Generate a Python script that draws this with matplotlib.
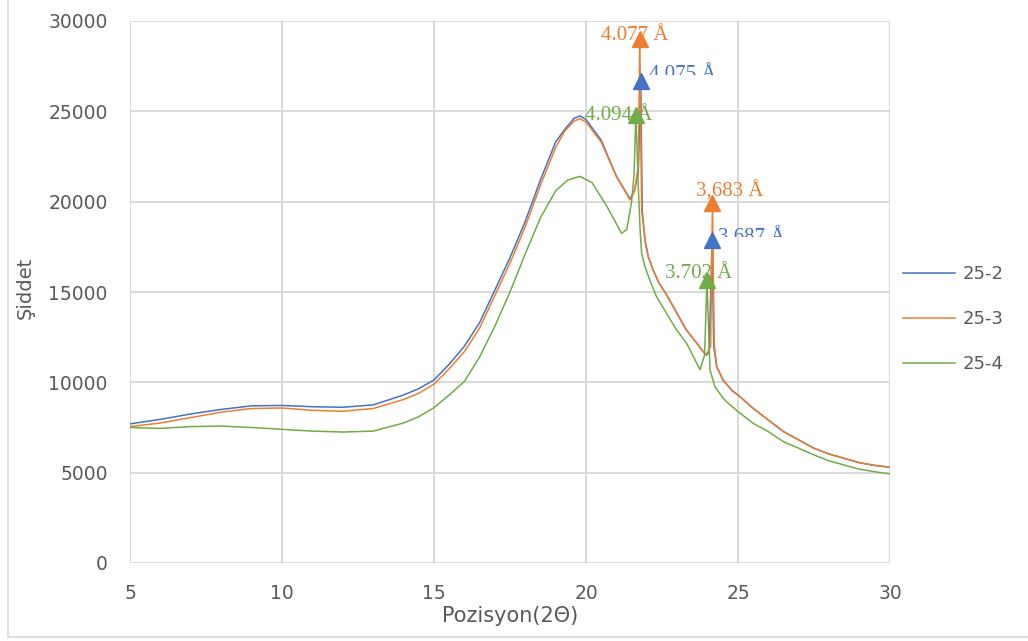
import matplotlib
matplotlib.use("Agg")
import matplotlib.pyplot as plt
from matplotlib.lines import Line2D
from matplotlib.transforms import Bbox, TransformedBbox

# 25-2
x_b = [5, 6, 7, 8, 9, 10, 11, 12, 13, 14, 14.5, 15, 15.5, 16, 16.5, 17, 17.5, 18, 18.5, 19,
       19.3, 19.6, 19.8, 20, 20.5, 21, 21.45, 21.6, 21.72, 21.80, 21.85, 21.94, 22.05, 22.2, 22.4,
       22.65, 23, 23.3, 23.65, 23.85, 23.97, 24.05, 24.15, 24.2, 24.3, 24.5, 24.8, 25, 25.5, 26,
       26.5, 27, 27.5, 28, 28.5, 29, 29.5, 30]
y_b = [7700, 7950, 8250, 8500, 8700, 8720, 8650, 8620, 8750, 9300, 9650, 10130, 11000, 12000,
       13300, 15100, 16900, 18900, 21200, 23300, 24000, 24600, 24750, 24550, 23400, 21400, 20150,
       20650, 21600, 26700, 19500, 17900, 16950, 16250, 15500, 14850, 13800, 12900, 12150, 11700,
       11500, 11700, 17900, 12000, 10870, 10150, 9550, 9300, 8560, 7910, 7270, 6810, 6350, 6030,
       5790, 5550, 5400, 5300]

# 25-3
x_o = [5, 6, 7, 8, 9, 10, 11, 12, 13, 14, 14.5, 15, 15.5, 16, 16.5, 17, 17.5, 18, 18.5, 19,
       19.3, 19.6, 19.8, 20, 20.5, 21, 21.45, 21.6, 21.72, 21.77, 21.83, 21.9, 21.96, 22.05, 22.2,
       22.4, 22.65, 23, 23.3, 23.65, 23.85, 23.97, 24.1, 24.16, 24.22, 24.3, 24.5, 24.8, 25, 25.5,
       26, 26.5, 27, 27.5, 28, 28.5, 29, 29.5, 30]
y_o = [7550, 7750, 8050, 8350, 8550, 8580, 8450, 8400, 8550, 9050, 9400, 9900, 10750, 11700,
       13000, 14800, 16600, 18600, 20900, 23000, 23900, 24450, 24600, 24400, 23300, 21400, 20100,
       20600, 22000, 29000, 19500, 18500, 17600, 16950, 16250, 15500, 14850, 13800, 12900, 12150,
       11700, 11550, 12000, 19900, 12100, 10870, 10150, 9550, 9300, 8560, 7910, 7270, 6810, 6350,
       6030, 5790, 5550, 5400, 5300]

# 25-4
x_g = [5, 6, 7, 8, 9, 10, 11, 12, 13, 14, 14.5, 15, 15.5, 16, 16.5, 17, 17.5, 18, 18.5, 19,
       19.4, 19.8, 20.2, 20.7, 21.17, 21.34, 21.5, 21.58, 21.64, 21.72, 21.78, 21.83, 21.94, 22.1,
       22.32, 22.65, 22.98, 23.31, 23.6, 23.75, 23.9, 23.98, 24.08, 24.24, 24.5, 24.62, 25, 25.5,
       26, 26.5, 27, 27.5, 28, 28.5, 29, 29.5, 30]
y_g = [7500, 7450, 7550, 7580, 7500, 7400, 7300, 7250, 7300, 7750, 8100, 8600, 9300, 10050,
       11400, 13100, 15000, 17100, 19100, 20600, 21200, 21400, 21050, 19700, 18250, 18450, 20000,
       21500, 24820, 20830, 18430, 17140, 16400, 15660, 14740, 13820, 12900, 12160, 11200, 10700,
       11500, 15660, 10680, 9760, 9150, 8930, 8380, 7730, 7270, 6710, 6350, 5980, 5650, 5420,
       5190, 5050, 4930]

# peak markers and d-spacing labels
peaks_b_x = [21.80, 24.15]
peaks_b_y = [26700, 17900]
peaks_b_lbl = ["4.075 Å", "3.687 Å"]
peaks_o_x = [21.77, 24.16]
peaks_o_y = [29000, 19900]
peaks_o_lbl = ["4.077 Å", "3,683 Å"]
peaks_g_x = [21.64, 23.98]
peaks_g_y = [24820, 15660]
peaks_g_lbl = ["4.094 Å", "3.702 Å"]

c_b = "#4472C4"
c_o = "#ED7D31"
c_g = "#70AD47"
txt = "#595959"

fig = plt.figure(figsize=(10.28, 6.41), dpi=100)
ax = fig.add_axes([130 / 1028, 78 / 641, 760 / 1028, 542 / 641])

ax.plot(x_b, y_b, color=c_b, lw=1.1, label="25-2", zorder=2)
ax.plot(x_o, y_o, color=c_o, lw=1.1, label="25-3", zorder=2)
ax.plot(x_g, y_g, color=c_g, lw=1.1, label="25-4", zorder=2)

# label offsets in pixels (left edge, baseline) from each peak marker
label_specs = [
    (peaks_o_x, peaks_o_y, peaks_o_lbl, c_o, [(-39, -1), (-16, 7)], [None, None]),
    (peaks_b_x, peaks_b_y, peaks_b_lbl, c_b, [(8, 2), (6, -2)], [27010, 18044]),
    (peaks_g_x, peaks_g_y, peaks_g_lbl, c_g, [(-51, -5), (-42, 2)], [None, None]),
]
for px, py, lbls, col, offs, clips in label_specs:
    ax.plot(px, py, linestyle="none", marker="^", ms=11, color=col, zorder=5)
    for xx, yy, s, (dx, dy), cl in zip(px, py, lbls, offs, clips):
        a = ax.annotate(s, (xx, yy), xytext=(dx, dy), textcoords="offset pixels",
                        ha="left", va="baseline", color=col, fontsize=15,
                        family="Liberation Serif", zorder=4)
        if cl is not None:
            # the reference only shows the top part of these labels
            a.set_clip_on(True)
            a.set_clip_path(None)
            a.set_clip_box(TransformedBbox(Bbox([[5, cl], [30, 31000]]), ax.transData))

ax.set_xlim(5, 30)
ax.set_ylim(0, 30000)
ax.set_xticks([5, 10, 15, 20, 25, 30])
ax.set_yticks(range(0, 30001, 5000))
ax.grid(True, color="#d9d9d9", lw=1.4)
ax.set_axisbelow(True)
for sp in ax.spines.values():
    sp.set_visible(False)
ax.tick_params(length=0, labelsize=13.5, labelcolor=txt)
ax.tick_params(axis="x", pad=15)
ax.tick_params(axis="y", pad=16)

ax.set_xlabel("Pozisyon(2Θ)", fontsize=15, color=txt)
ax.xaxis.set_label_coords(0.5, -0.08)
ax.set_ylabel("Şiddet", fontsize=14, color=txt)
ax.yaxis.set_label_coords(-0.125, 0.507)

fig.legend(loc="center left", bbox_to_anchor=(903 / 1028, 322 / 641), frameon=False,
           fontsize=13, handlelength=2.9, handletextpad=0.4, labelspacing=1.5,
           borderpad=0, borderaxespad=0, labelcolor=txt)

# chart frame
fig.add_artist(Line2D([8 / 1028, 8 / 1028], [4 / 641, 1], color="#d9d9d9", lw=1.2))
fig.add_artist(Line2D([8 / 1028, 1], [4 / 641, 4 / 641], color="#d9d9d9", lw=1.2))

fig.savefig("out.png", dpi=100)
